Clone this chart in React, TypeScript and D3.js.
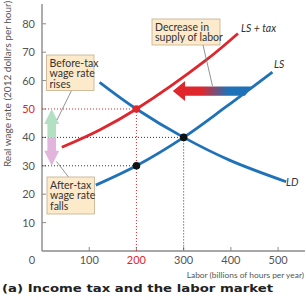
import React from "react";
import * as d3 from "d3";

// Labor market: demand, supply and supply shifted by an income tax
const wageTicks = [10, 20, 30, 40, 50, 60, 70, 80];
const laborTicks = [100, 200, 300, 400, 500];

const ldLabor = [122, 200, 300, 397, 517];
const ldWage = [59.4, 50, 40, 32, 24.4];

const lsLabor = [114, 200, 300, 390, 488];
const lsWage = [23.2, 30, 40, 50.8, 63];

const lsTaxLabor = [42, 122, 200, 348, 415];
const lsTaxWage = [36.5, 42.6, 50, 67.3, 76.6];

// equilibrium without tax, and with tax (before-tax / after-tax wage)
const eqLabor = 300;
const eqWage = 40;
const taxLabor = 200;
const taxWageBefore = 50;
const taxWageAfter = 30;

const W = 306;
const H = 300;
const BLUE = "#1f72b8";
const RED = "#e0262d";
const AXIS = "#8a8a8a";
const TEXT = "#555";
const BOX_FILL = "#fdeacb";
const BOX_STROKE = "#c2ae8a";
const FONT = "Lato, 'Open Sans', sans-serif";

export default function App() {
  const x = d3.scaleLinear().domain([0, 557]).range([42, 305]);
  const y = d3.scaleLinear().domain([0, 87]).range([251, 3.9]);

  const line = d3
    .line<[number, number]>()
    .x((d) => x(d[0]))
    .y((d) => y(d[1]))
    .curve(d3.curveCatmullRom.alpha(0.5));

  const zip = (a: number[], b: number[]) => a.map((v, i) => [v, b[i]] as [number, number]);

  // shift arrow (data units): tip on the left, tail on the right
  const arrWage = 56.3;
  const tip = x(277), headBack = x(303), tailTop = x(444), tailBot = x(430);
  const yc = y(arrWage);
  const shaftH = 4.6, headH = 10;
  const shiftArrow = [
    [tip, yc],
    [headBack, yc - headH],
    [headBack, yc - shaftH],
    [tailTop, yc - shaftH],
    [tailBot, yc + shaftH],
    [headBack, yc + shaftH],
    [headBack, yc + headH],
  ];

  // vertical wage arrows at left
  const ax = x(20.5);
  const wageArrow = (from: number, to: number) => {
    const y0 = y(from), y1 = y(to);
    const dir = y1 < y0 ? 1 : -1; // 1 = upward
    const hb = y1 + dir * 15;
    return [
      [ax - 4.3, y0],
      [ax - 4.3, hb],
      [ax - 7.5, hb],
      [ax, y1],
      [ax + 7.5, hb],
      [ax + 4.3, hb],
      [ax + 4.3, y0],
    ];
  };

  const pts = (p: number[][]) => p.map((q) => q.join(",")).join(" ");

  const Box = ({ x0, y0, w, h, lines }: { x0: number; y0: number; w: number; h: number; lines: string[] }) => (
    <g>
      <rect x={x0} y={y0} width={w} height={h} fill={BOX_FILL} stroke={BOX_STROKE} strokeWidth={0.8} />
      {lines.map((t, i) => (
        <text key={i} x={x0 + 3} y={y0 + 11.5 + i * 10.8} fontSize={10.5} fill="#333" fontFamily={FONT}>
          {t}
        </text>
      ))}
    </g>
  );

  return (
    <svg width={W} height={H} style={{ position: "absolute", left: 0, top: 0, background: "#fff" }}>
      <defs>
        <linearGradient id="shiftGrad" gradientUnits="userSpaceOnUse" x1={tip} x2={tailTop} y1={0} y2={0}>
          <stop offset="0.36" stopColor={RED} />
          <stop offset="0.7" stopColor={BLUE} />
        </linearGradient>
      </defs>

      {/* axes */}
      <line x1={x(0)} x2={x(0)} y1={y(87)} y2={y(0)} stroke={AXIS} strokeWidth={1.4} />
      <line x1={x(0)} x2={305} y1={y(0)} y2={y(0)} stroke={AXIS} strokeWidth={1.4} />
      {wageTicks.map((t) => (
        <g key={t}>
          <line x1={x(0)} x2={x(0) + 4} y1={y(t)} y2={y(t)} stroke={AXIS} strokeWidth={1} />
          <text x={35} y={y(t) + 4} textAnchor="end" fontSize={11} fill={t === taxWageBefore ? RED : TEXT} fontFamily={FONT}>
            {t}
          </text>
        </g>
      ))}
      {laborTicks.map((t) => (
        <g key={t}>
          <line x1={x(t)} x2={x(t)} y1={y(0)} y2={y(0) - 4} stroke={AXIS} strokeWidth={1} />
          <text x={x(t)} y={264} textAnchor="middle" fontSize={11} fill={t === taxLabor ? RED : TEXT} fontFamily={FONT}>
            {t}
          </text>
        </g>
      ))}
      <text x={32} y={264} textAnchor="middle" fontSize={11} fill={TEXT} fontFamily={FONT}>0</text>

      <text
        transform={`translate(11,84) rotate(-90)`}
        textAnchor="middle"
        fontSize={10}
        fill={TEXT}
        fontFamily={FONT}
      >
        Real wage rate (2012 dollars per hour)
      </text>
      <text x={304} y={278} textAnchor="end" fontSize={8.4} fill={TEXT} fontFamily={FONT}>
        Labor (billions of hours per year)
      </text>
      <text
        x={2}
        y={292}
        fontSize={10.5}
        fontWeight="bold"
        fill="#222"
        fontFamily="'DejaVu Sans', sans-serif"
        textLength={271}
        lengthAdjust="spacingAndGlyphs"
      >
        (a) Income tax and the labor market
      </text>

      {/* guide lines */}
      <line x1={x(0)} x2={x(taxLabor)} y1={y(taxWageBefore)} y2={y(taxWageBefore)} stroke={RED} strokeWidth={1} strokeDasharray="1,2" />
      <line x1={x(taxLabor)} x2={x(taxLabor)} y1={y(taxWageBefore)} y2={y(0)} stroke={RED} strokeWidth={1} strokeDasharray="1,2" />
      <line x1={x(0)} x2={x(eqLabor)} y1={y(eqWage)} y2={y(eqWage)} stroke="#333" strokeWidth={1} strokeDasharray="1,2" />
      <line x1={x(eqLabor)} x2={x(eqLabor)} y1={y(eqWage)} y2={y(0)} stroke="#333" strokeWidth={1} strokeDasharray="1,2" />
      <line x1={x(0)} x2={x(taxLabor)} y1={y(taxWageAfter)} y2={y(taxWageAfter)} stroke="#333" strokeWidth={1} strokeDasharray="1,2" />

      {/* curves */}
      <path d={line(zip(ldLabor, ldWage)) || ""} fill="none" stroke={BLUE} strokeWidth={2.8} />
      <path d={line(zip(lsLabor, lsWage)) || ""} fill="none" stroke={BLUE} strokeWidth={2.8} />
      <path d={line(zip(lsTaxLabor, lsTaxWage)) || ""} fill="none" stroke={RED} strokeWidth={2.8} />

      {/* shift arrow */}
      <polygon points={pts(shiftArrow)} fill="url(#shiftGrad)" />

      {/* wage arrows */}
      <polygon points={pts(wageArrow(eqWage, taxWageBefore))} fill="#b3dfc3" />
      <polygon points={pts(wageArrow(eqWage, taxWageAfter))} fill="#e2b5dc" />

      {/* points */}
      <circle cx={x(eqLabor)} cy={y(eqWage)} r={3.8} fill="#111" />
      <circle cx={x(taxLabor)} cy={y(taxWageAfter)} r={3.8} fill="#111" />
      <circle cx={x(taxLabor)} cy={y(taxWageBefore)} r={3.8} fill={RED} />

      {/* curve labels */}
      <text x={241} y={32} fontSize={10.5} fontStyle="italic" fill="#333" fontFamily={FONT}>LS + tax</text>
      <text x={274} y={68} fontSize={10.5} fontStyle="italic" fill="#333" fontFamily={FONT}>LS</text>
      <text x={286} y={186} fontSize={10.5} fontStyle="italic" fill="#333" fontFamily={FONT}>LD</text>

      {/* callouts */}
      <line x1={203} y1={45} x2={212.5} y2={86} stroke="#777" strokeWidth={0.8} />
      <Box x0={152} y0={19} w={68} h={26} lines={["Decrease in", "supply of labor"]} />
      <line x1={71.5} y1={90.5} x2={57} y2={120} stroke="#777" strokeWidth={0.8} />
      <Box x0={46.5} y0={55} w={47.5} h={35.5} lines={["Before-tax", "wage rate", "rises"]} />
      <line x1={68.5} y1={177} x2={56.5} y2={161.5} stroke="#777" strokeWidth={0.8} />
      <Box x0={47} y0={177} w={47.5} h={37} lines={["After-tax", "wage rate", "falls"]} />
    </svg>
  );
}
